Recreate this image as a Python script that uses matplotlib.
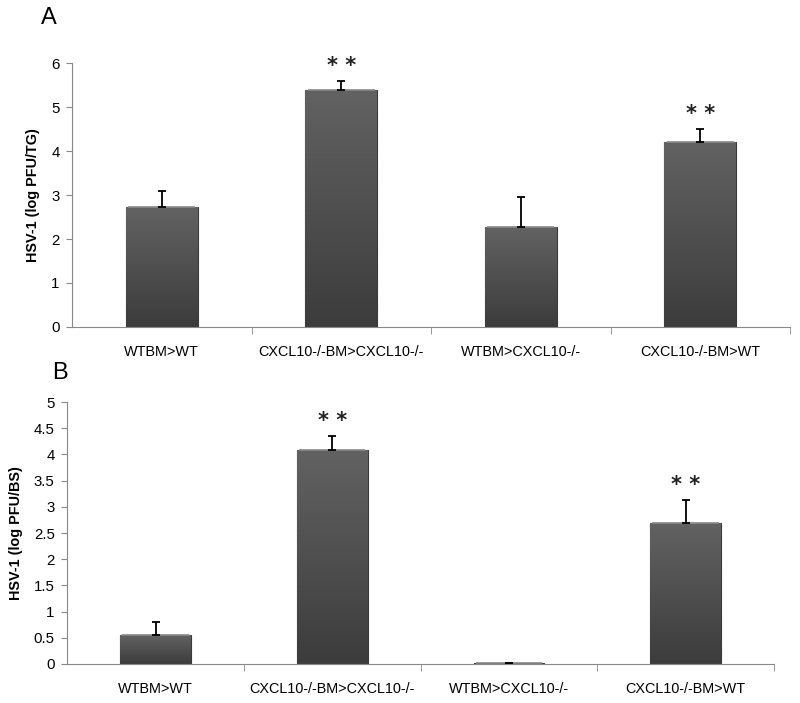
import numpy as np
import matplotlib.pyplot as plt
from matplotlib.colors import LinearSegmentedColormap

plt.rcParams['font.family'] = ['Liberation Sans', 'DejaVu Sans']

groups = ['WTBM>WT', 'CXCL10-/-BM>CXCL10-/-', 'WTBM>CXCL10-/-', 'CXCL10-/-BM>WT']

tg_mean = [2.73, 5.39, 2.27, 4.20]
tg_err = [0.36, 0.20, 0.69, 0.30]
tg_sig = ['', '* *', '', '* *']

bs_mean = [0.55, 4.08, 0.02, 2.69]
bs_err = [0.25, 0.28, 0.0, 0.45]
bs_sig = ['', '* *', '', '* *']

grad = LinearSegmentedColormap.from_list('bar', ['#3c3c3c', '#626262'])


def shaded_bars(ax, x, vals):
    bars = ax.bar(x, vals, width=0.4, color='#505050', edgecolor='#3a3a3a',
                  linewidth=0.8, zorder=2)
    g = np.linspace(0, 1, 256).reshape(-1, 1)
    for b in bars:
        x0, y0 = b.get_x(), b.get_y()
        w, h = b.get_width(), b.get_height()
        if h <= 0:
            continue
        im = ax.imshow(g, cmap=grad, origin='lower', aspect='auto',
                       extent=[x0, x0 + w, y0, y0 + h], zorder=2.5)
        im.set_clip_path(b)
        # light bevel at the top of the bar
        ax.plot([x0 + w * 0.03, x0 + w * 0.97], [y0 + h, y0 + h],
                color='#8a8a8a', lw=1.2, zorder=3, solid_capstyle='butt')
    return bars


def panel(ax, vals, errs, sig, ymax, ystep, ylabel, letter, letter_xy):
    x = np.arange(len(groups))
    shaded_bars(ax, x, vals)
    ax.errorbar(x, vals, yerr=[np.zeros(len(errs)), errs], fmt='none',
                ecolor='black', elinewidth=1.3, capsize=2.8, capthick=1.3,
                zorder=4)
    for xi, v, e, s in zip(x, vals, errs, sig):
        if s:
            ax.annotate(s, (xi, v + e), xytext=(0, 6.5), textcoords='offset points',
                        ha='center', va='baseline', fontsize=15,
                        fontweight='bold', family='DejaVu Sans', color='#222222')
    ax.set_xlim(-0.5, len(groups) - 0.5)
    ax.set_ylim(0, ymax)
    ticks = np.arange(0, ymax + ystep / 2, ystep)
    ax.set_yticks(ticks)
    ax.set_yticklabels(['%g' % t for t in ticks])
    ax.set_xticks(x)
    ax.set_xticklabels(groups)
    ax.set_xticks(np.arange(0.5, len(groups), 1.0), minor=True)
    ax.tick_params(axis='x', which='major', length=0, pad=13, labelsize=10.4)
    ax.tick_params(axis='x', which='minor', length=5, color='#888888',
                   direction='out')
    ax.tick_params(axis='y', length=4, color='#888888', pad=5, labelsize=10.8)
    for sp in ['top', 'right']:
        ax.spines[sp].set_visible(False)
    for sp in ['left', 'bottom']:
        ax.spines[sp].set_color('#888888')
    ax.set_ylabel(ylabel, fontsize=10.4, fontweight='bold', labelpad=8)
    ax.text(letter_xy[0], letter_xy[1], letter, transform=ax.transAxes,
            fontsize=17, ha='left', va='bottom')


fig = plt.figure(figsize=(8, 7.03), dpi=100)
ax1 = fig.add_axes([0.09, 0.535, 0.8975, 0.375])
ax2 = fig.add_axes([0.084, 0.0555, 0.8835, 0.3725])

panel(ax1, tg_mean, tg_err, tg_sig, 6, 1, 'HSV-1 (log PFU/TG)', 'A', (-0.043, 1.13))
panel(ax2, bs_mean, bs_err, bs_sig, 5, 0.5, 'HSV-1 (log PFU/BS)', 'B', (-0.021, 1.07))

fig.savefig('out.png', dpi=100)
